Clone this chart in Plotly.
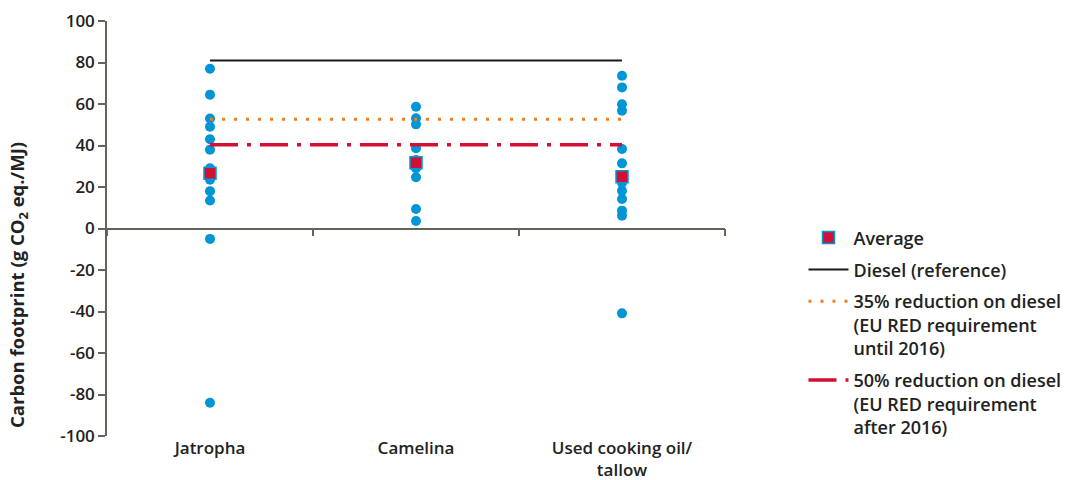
import plotly.graph_objects as go

categories = ["Jatropha", "Camelina", "Used cooking oil/<br>tallow"]

jatropha = [77, 64.5, 53, 49, 43, 38, 29, 27.5, 23.5, 18, 13.5, -5, -84]
camelina = [58.7, 53.1, 50.2, 38.7, 33, 29, 24.7, 9.4, 3.6]
uco = [73.6, 68.0, 59.9, 56.8, 38.3, 31.4, 22, 18.2, 14.2, 8.6, 6.2, -40.9]

averages = [26.6, 31.7, 25.0]

diesel_ref = 81.0
reduction_35 = 52.7
reduction_50 = 40.4

y_ticks = [100, 80, 60, 40, 20, 0, -20, -40, -60, -80, -100]
y_tick_labels = ["100", "80", "60", "40", "20", "0", "-20", "-40", "-60", "-80", "-100"]

y_title = "Carbon footprint (g CO<sub>2</sub> eq./MJ)"

BLUE = "#0096d6"
RED = "#d21034"
ORANGE = "#f07d1e"
BLACK = "#1a1a1a"
AXIS = "#62645a"
TEXT = "#222222"
FONT = "Open Sans"

fig = go.Figure()

series = [jatropha, camelina, uco]
xs, ys = [], []
for cat, vals in zip(categories, series):
    xs += [cat] * len(vals)
    ys += vals
fig.add_trace(go.Scatter(
    x=xs, y=ys, mode="markers", showlegend=False,
    marker=dict(color=BLUE, size=10, line=dict(width=0)),
))

fig.add_trace(go.Scatter(
    x=categories, y=[diesel_ref] * 3, mode="lines", name="Diesel (reference)",
    line=dict(color=BLACK, width=2), legendrank=2, legendgroup="g2",
))
fig.add_trace(go.Scatter(
    x=categories, y=[reduction_35] * 3, mode="lines",
    name="35% reduction on diesel<br>(EU RED requirement<br>until 2016)",
    line=dict(color=ORANGE, width=3, dash="3px,9px"), legendrank=3, legendgroup="g3",
))
fig.add_trace(go.Scatter(
    x=categories, y=[reduction_50] * 3, mode="lines",
    name="50% reduction on diesel<br>(EU RED requirement<br>after 2016)",
    line=dict(color=RED, width=3.5, dash="28px,9px,4px,9px"), legendrank=4, legendgroup="g4",
))
fig.add_trace(go.Scatter(
    x=categories, y=averages, mode="markers", name="Average",
    marker=dict(color=RED, symbol="square", size=12, line=dict(color=BLUE, width=1.5)),
    legendrank=1, legendgroup="g1",
))

# axis at y=0 carrying tick marks between categories
fig.add_trace(go.Scatter(x=categories, y=[None] * 3, xaxis="x2", showlegend=False, hoverinfo="skip"))

fig.add_annotation(
    text=y_title, textangle=-90, xref="paper", yref="paper",
    x=-0.144, y=0.364, xanchor="center", yanchor="middle", showarrow=False,
    font=dict(family=FONT, size=18.5, color=TEXT, weight=700),
)

fig.update_layout(
    width=1067, height=480,
    margin=dict(l=107, r=342, t=21, b=44, autoexpand=False),
    plot_bgcolor="white", paper_bgcolor="white",
    font=dict(family=FONT, size=16, color=TEXT),
    showlegend=True,
    legend=dict(
        x=1.127, y=0.522, xanchor="left", yanchor="top", valign="top",
        font=dict(family=FONT, size=18, color=TEXT, weight=600),
        traceorder="grouped", tracegroupgap=5.5, itemwidth=40,
        bgcolor="rgba(0,0,0,0)",
    ),
    xaxis=dict(
        type="category", categoryorder="array", categoryarray=categories,
        range=[-0.5, 2.5], showline=False, showgrid=False, zeroline=False,
        automargin=False, ticks="", ticklabelstandoff=0,
        tickfont=dict(family=FONT, size=17, color=TEXT, weight=600),
    ),
    xaxis2=dict(
        type="category", categoryorder="array", categoryarray=categories,
        range=[-0.5, 2.5], overlaying="x", anchor="free", position=0.5, side="bottom",
        showline=True, linecolor=AXIS, linewidth=1.5, showgrid=False, zeroline=False,
        ticks="outside", tickson="boundaries", ticklen=7, tickwidth=1.5, tickcolor=AXIS,
        showticklabels=False, automargin=False,
    ),
    yaxis=dict(
        range=[-100, 100], tickvals=y_ticks, ticktext=y_tick_labels,
        showline=True, linecolor=AXIS, linewidth=1.5, showgrid=False, zeroline=False,
        ticks="outside", ticklen=7, tickwidth=1.5, tickcolor=AXIS, automargin=False,
        tickfont=dict(family=FONT, size=17, color=TEXT, weight=600),
    ),
)

fig.write_html(
    "out.html",
    config={"displayModeBar": False},
    post_script="document.body.style.margin='0';document.body.style.overflow='hidden';",
)
